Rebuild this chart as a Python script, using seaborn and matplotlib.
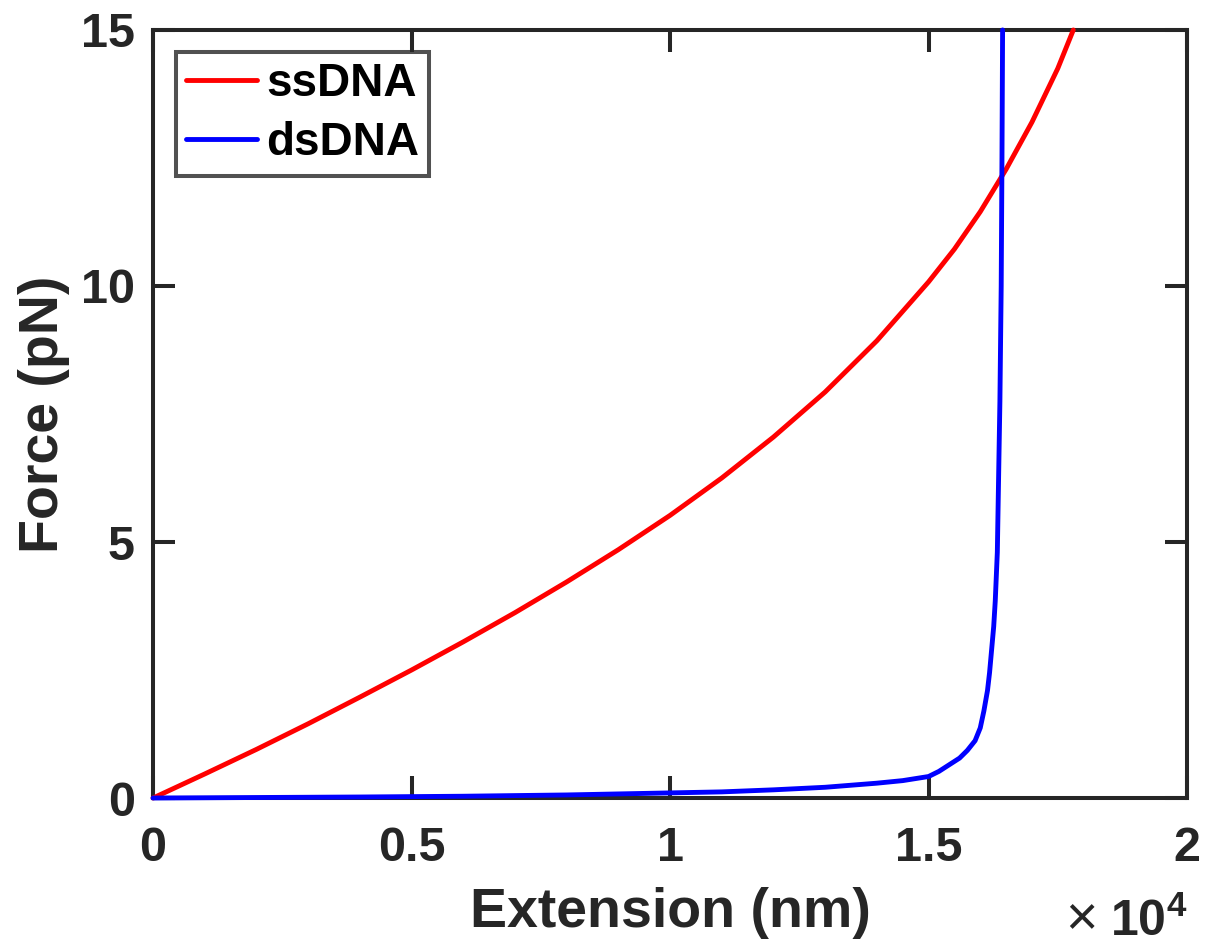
import numpy as np
import pandas as pd
import matplotlib
matplotlib.use("Agg")
import matplotlib.pyplot as plt
import seaborn as sns

# ssDNA force-extension curve
ss_ext = [0, 1000, 2000, 3000, 4000, 5000, 6000, 7000, 8000, 9000, 10000,
          11000, 12000, 13000, 14000, 15000, 15500, 16000, 16500, 17000, 17500, 17800]
ss_force = [0, 0.47, 0.95, 1.45, 1.97, 2.5, 3.05, 3.62, 4.22, 4.85, 5.52,
            6.25, 7.05, 7.93, 8.93, 10.08, 10.72, 11.45, 12.28, 13.2, 14.25, 15.0]

# dsDNA force-extension curve
ds_ext = [0, 2000, 4000, 6000, 8000, 10000, 11000, 12000, 13000, 14000, 14500,
          15000, 15200, 15400, 15600, 15750, 15900, 16000, 16070, 16140, 16180,
          16220, 16260, 16290, 16330, 16380, 16405, 16420, 16432]
ds_force = [0, 0.01, 0.02, 0.035, 0.06, 0.1, 0.12, 0.16, 0.21, 0.29, 0.34,
            0.42, 0.52, 0.65, 0.78, 0.93, 1.12, 1.37, 1.7, 2.1, 2.45,
            2.9, 3.35, 3.85, 4.8, 7.75, 10.0, 12.5, 15.0]

x_ticks = [0, 5000, 10000, 15000, 20000]
x_tick_labels = ["0", "0.5", "1", "1.5", "2"]
y_ticks = [0, 5, 10, 15]

df = pd.concat([
    pd.DataFrame({"ext": ss_ext, "force": ss_force, "strand": "ssDNA"}),
    pd.DataFrame({"ext": ds_ext, "force": ds_force, "strand": "dsDNA"}),
], ignore_index=True)

sns.set_theme(style="white")
plt.rcParams["font.family"] = ["Liberation Sans", "DejaVu Sans"]
plt.rcParams["font.weight"] = "bold"
plt.rcParams["mathtext.fontset"] = "custom"
plt.rcParams["mathtext.rm"] = "Liberation Sans"
plt.rcParams["mathtext.bf"] = "Liberation Sans:bold"

dark = "#262626"

fig = plt.figure(figsize=(12.06, 9.48), dpi=100)
ax = fig.add_axes([0.1269, 0.1582, 0.8574, 0.8102])

sns.lineplot(data=df, x="ext", y="force", hue="strand",
             palette={"ssDNA": "#ff0000", "dsDNA": "#0000ff"},
             sort=False, estimator=None, lw=3.5, ax=ax, zorder=3, clip_on=False)

ax.set_xlim(0, 20000)
ax.set_ylim(0, 15)
ax.set_xticks(x_ticks)
ax.set_xticklabels(x_tick_labels)
ax.set_yticks(y_ticks)

for sp in ax.spines.values():
    sp.set_visible(True)
    sp.set_color(dark)
    sp.set_linewidth(2.9)
    sp.set_zorder(2)

ax.tick_params(direction="in", length=16, width=2.9, color=dark,
               labelsize=35, labelcolor=dark, top=True, right=True,
               bottom=True, left=True)
ax.tick_params(axis="x", pad=20)
ax.tick_params(axis="y", pad=13)

ax.set_xlabel("Extension (nm)", fontsize=40, fontweight="bold", color=dark, labelpad=12)
ax.set_ylabel("Force (pN)", fontsize=40, fontweight="bold", color=dark, labelpad=8)

# MATLAB-style exponent label under the right end of the x axis
ax.text(1.0, -0.179, r"$\mathbf{10^{4}}$", transform=ax.transAxes,
        ha="right", va="baseline", fontsize=36, color=dark)
ax.text(0.913, -0.177, "\u00d7", transform=ax.transAxes,
        ha="right", va="baseline", fontsize=40, fontweight="normal", color=dark)

leg = ax.legend(loc="upper left", bbox_to_anchor=(0.022, 0.971),
                fontsize=33, frameon=True, fancybox=False,
                handlelength=1.55, handletextpad=0.2, labelspacing=0.33,
                borderpad=0.22, borderaxespad=0)
leg.get_frame().set_edgecolor(dark)
leg.get_frame().set_linewidth(2.9)
for t in leg.get_texts():
    t.set_fontweight("bold")
    t.set_color("black")

fig.savefig("out.png", dpi=100, facecolor="white")
